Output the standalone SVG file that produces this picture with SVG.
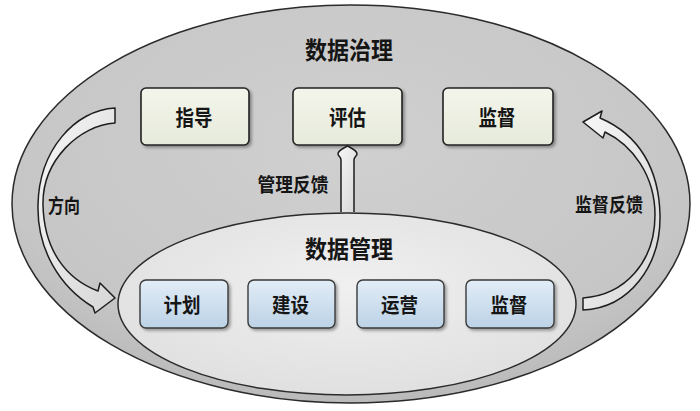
<svg xmlns="http://www.w3.org/2000/svg" width="700" height="411" viewBox="0 0 700 411">
  <defs>
    <radialGradient id="gOuter" cx="50%" cy="35%" r="65%">
      <stop offset="0" stop-color="#d0d0d0"/>
      <stop offset="0.8" stop-color="#c6c6c6"/>
      <stop offset="1" stop-color="#bababa"/>
    </radialGradient>
    <radialGradient id="gInner" cx="50%" cy="40%" r="60%">
      <stop offset="0" stop-color="#f0f0f0"/>
      <stop offset="1" stop-color="#e0e0e0"/>
    </radialGradient>
    <linearGradient id="gTop" x1="0" y1="0" x2="0" y2="1">
      <stop offset="0" stop-color="#f3f5ea"/>
      <stop offset="1" stop-color="#e6eadb"/>
    </linearGradient>
    <linearGradient id="gBot" x1="0" y1="0" x2="0" y2="1">
      <stop offset="0" stop-color="#e2edf7"/>
      <stop offset="1" stop-color="#bcd2e6"/>
    </linearGradient>
    <linearGradient id="gArrow" x1="0" y1="0" x2="1" y2="1">
      <stop offset="0" stop-color="#f7f7f7"/>
      <stop offset="1" stop-color="#d6d6d6"/>
    </linearGradient>
    <filter id="shadow" x="-10%" y="-10%" width="130%" height="140%">
      <feDropShadow dx="2" dy="2" stdDeviation="1.5" flood-color="#000" flood-opacity="0.35"/>
    </filter>
  </defs>
  <style>
    .ell { stroke: #2b2b2b; stroke-width: 1.5; }
    .boxT { fill: url(#gTop); stroke: #222; stroke-width: 1.6; filter: url(#shadow); }
    .boxB { fill: url(#gBot); stroke: #3a3a3a; stroke-width: 1.4; filter: url(#shadow); }
    .arrow { fill: url(#gArrow); stroke: #1e1e1e; stroke-width: 1.5; stroke-linejoin: round; }
    text { font-family: "Noto Sans CJK SC", "Noto Sans", sans-serif; fill: #151515; text-anchor: middle; dominant-baseline: central; font-weight: 700; }
    .title { font-size: 24px; }
    .lbl { font-size: 21px; }
    .lblB { font-size: 20px; }
    .conn { font-size: 19px; }
  </style>
  <rect width="700" height="411" fill="#ffffff"/>

  <g id="governance">
    <ellipse class="ell" cx="351" cy="204" rx="339" ry="199" fill="url(#gOuter)"/>
    <text class="title" x="349" y="48" textLength="88" lengthAdjust="spacingAndGlyphs">数据治理</text>
  </g>

  <g id="management">
    <ellipse class="ell" cx="347" cy="304" rx="229" ry="91" fill="url(#gInner)"/>
    <text class="title" x="349" y="247" textLength="88" lengthAdjust="spacingAndGlyphs">数据管理</text>
  </g>

  <g id="node-zhidao">
    <rect class="boxT" x="141" y="88" width="108" height="57" rx="5"/>
    <text class="lbl" x="194" y="116" textLength="37" lengthAdjust="spacingAndGlyphs">指导</text>
  </g>
  <g id="node-pinggu">
    <rect class="boxT" x="293" y="88" width="109" height="57" rx="5"/>
    <text class="lbl" x="347.5" y="116" textLength="37" lengthAdjust="spacingAndGlyphs">评估</text>
  </g>
  <g id="node-jiandu-top">
    <rect class="boxT" x="443" y="88" width="110" height="57" rx="5"/>
    <text class="lbl" x="497" y="116" textLength="37" lengthAdjust="spacingAndGlyphs">监督</text>
  </g>

  <g id="node-jihua">
    <rect class="boxB" x="140" y="280" width="88" height="48" rx="6"/>
    <text class="lblB" x="182" y="304" textLength="37" lengthAdjust="spacingAndGlyphs">计划</text>
  </g>
  <g id="node-jianshe">
    <rect class="boxB" x="248" y="280" width="87" height="48" rx="6"/>
    <text class="lblB" x="290.5" y="304" textLength="37" lengthAdjust="spacingAndGlyphs">建设</text>
  </g>
  <g id="node-yunying">
    <rect class="boxB" x="357" y="280" width="87" height="48" rx="6"/>
    <text class="lblB" x="399.5" y="304" textLength="37" lengthAdjust="spacingAndGlyphs">运营</text>
  </g>
  <g id="node-jiandu-bottom">
    <rect class="boxB" x="466" y="280" width="88" height="48" rx="6"/>
    <text class="lblB" x="509" y="304" textLength="37" lengthAdjust="spacingAndGlyphs">监督</text>
  </g>

  <g id="connectors">
    <path class="arrow" d="M115,108 C75,110 39,150 38,205 C37,250 60,287 93,307 L95,313 L115,298 L100,283 L98,291 C66,279 44,250 43,205 C42,160 80,125 115,123 Z"/>
    <text class="conn" x="64" y="204" textLength="32" lengthAdjust="spacingAndGlyphs">方向</text>

    <path class="arrow" d="M583,310 C630,308 661,265 660,215 C659,170 640,135 600,118 L602,111 L583,122 L603,138 L605,132 C632,145 655,175 655,215 C655,262 625,295 583,298 Z"/>
    <text class="conn" x="609" y="203" textLength="68" lengthAdjust="spacingAndGlyphs">监督反馈</text>

    <path class="arrow" d="M341,212 L341,160 C341,157 338,156 338,154 C338,150 344,148 347.5,146 C351,148 357,150 357,154 C357,156 354,157 354,160 L354,212"/>
    <text class="conn" x="293" y="183" textLength="71" lengthAdjust="spacingAndGlyphs">管理反馈</text>
  </g>
</svg>
